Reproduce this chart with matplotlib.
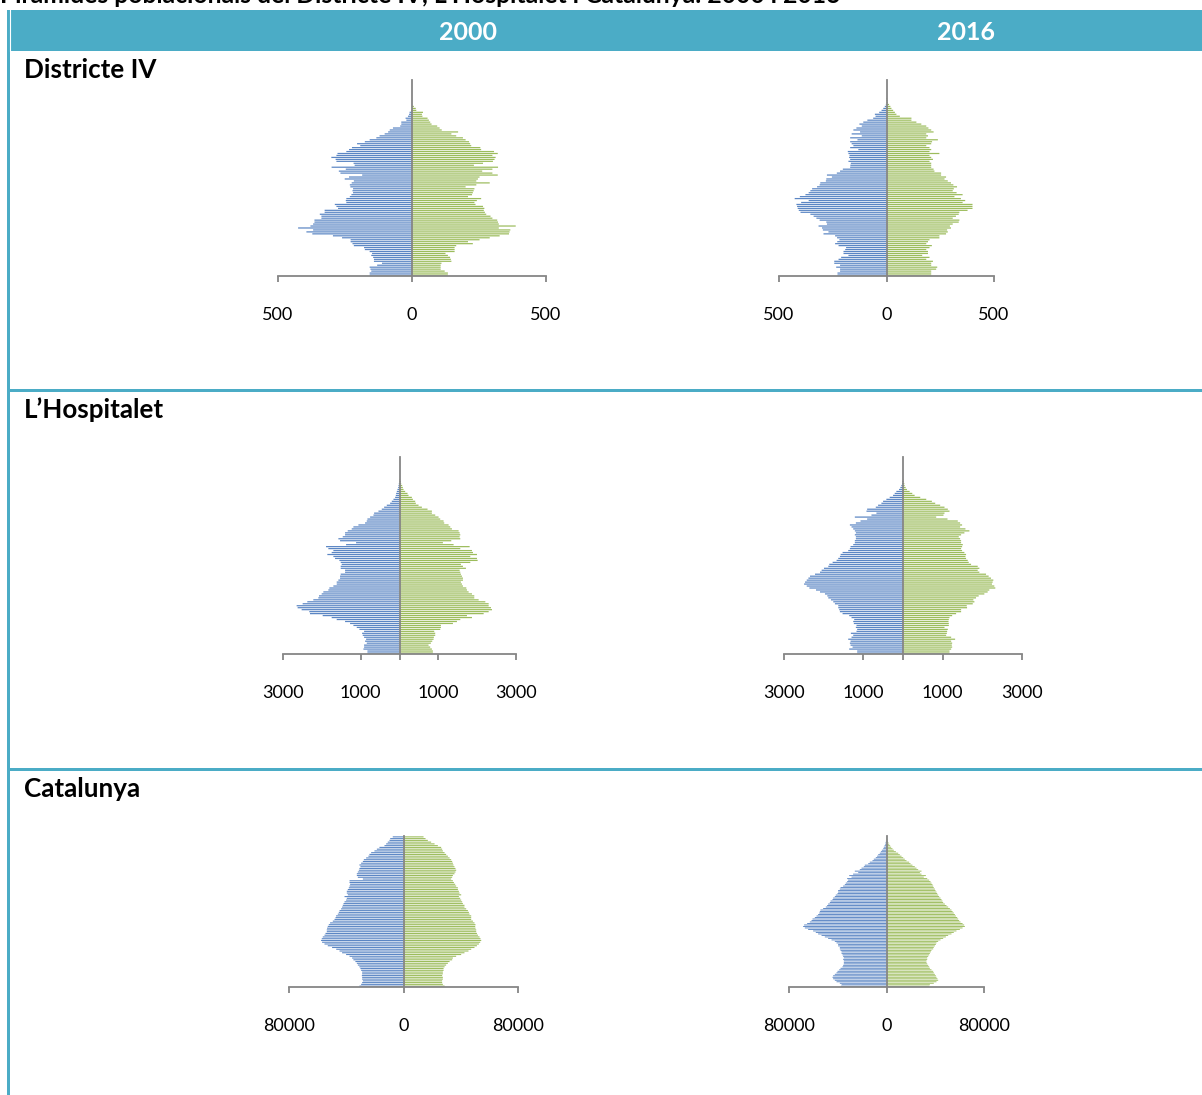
import numpy as np
import matplotlib
matplotlib.use('Agg')
import matplotlib.pyplot as plt
from matplotlib.patches import Rectangle

plt.rcParams['font.family'] = ['Lato', 'DejaVu Sans']

# ------------------------------------------------------------
# Population by single year of age (men on the left, women on the right)
# ------------------------------------------------------------
# Districte IV
d4_2000_men = [158, 158, 152, 155, 158, 130, 112, 142, 142, 145,
               152, 149, 158, 176, 179, 217, 222, 229, 229, 261,
               295, 372, 394, 369, 425, 379, 369, 364, 364, 338,
               338, 344, 326, 326, 276, 282, 288, 245, 247, 245,
               232, 226, 220, 222, 220, 230, 232, 225, 217, 251,
               235, 186, 267, 273, 247, 300, 214, 218, 282, 285,
               301, 282, 278, 245, 235, 224, 193, 205, 176, 158,
               133, 121, 102, 89, 83, 71, 44, 40, 40, 21,
               24, 15, 11, 9, 2]
d4_2000_women = [134, 134, 122, 107, 107, 107, 110, 147, 145, 142,
                 134, 125, 159, 159, 159, 165, 227, 209, 252, 290,
                 327, 362, 364, 367, 324, 387, 324, 321, 318, 300,
                 293, 277, 272, 268, 270, 265, 237, 233, 242, 258,
                 209, 224, 227, 230, 233, 200, 240, 290, 240, 246,
                 252, 320, 300, 262, 300, 321, 231, 265, 302, 308,
                 312, 300, 320, 306, 258, 255, 221, 217, 213, 200,
                 190, 165, 147, 172, 111, 103, 94, 73, 68, 63,
                 58, 39, 37, 41, 16, 14, 7]
d4_2016_men = [228, 228, 216, 216, 234, 216, 243, 243, 223, 211,
               177, 200, 200, 192, 188, 223, 239, 229, 219, 230,
               239, 293, 270, 296, 300, 316, 277, 280, 311, 326,
               339, 354, 400, 408, 413, 416, 419, 397, 362, 427,
               403, 377, 362, 354, 346, 323, 311, 308, 282, 280,
               254, 277, 231, 216, 203, 169, 168, 166, 177, 169,
               174, 172, 177, 180, 131, 169, 154, 162, 169, 135,
               169, 115, 162, 123, 154, 140, 115, 126, 108, 89,
               62, 51, 54, 34, 23, 15, 8, 3]
d4_2016_women = [208, 208, 208, 231, 236, 208, 208, 216, 185, 200,
                 166, 193, 193, 185, 200, 211, 185, 193, 200, 246,
                 246, 277, 285, 282, 300, 295, 308, 336, 339, 308,
                 323, 336, 339, 377, 400, 400, 400, 354, 366, 346,
                 316, 354, 326, 308, 313, 328, 311, 300, 285, 270,
                 277, 254, 254, 223, 219, 208, 208, 208, 200, 216,
                 208, 200, 246, 200, 208, 200, 185, 208, 212, 239,
                 185, 193, 185, 219, 208, 195, 185, 162, 139, 116,
                 116, 62, 46, 39, 31, 23, 18, 12, 6, 5,
                 3]

# L'Hospitalet
lh_2000_men = [826, 826, 929, 912, 912, 843, 886, 860, 912, 946,
               963, 912, 1032, 1101, 1187, 1273, 1402, 1617, 1746, 1978,
               2305, 2322, 2520, 2623, 2649, 2494, 2374, 2219, 2090, 2073,
               2004, 1961, 1832, 1806, 1703, 1617, 1617, 1574, 1531, 1531,
               1514, 1402, 1402, 1514, 1514, 1488, 1514, 1548, 1660, 1703,
               1858, 1746, 1703, 1832, 1892, 1376, 1118, 1531, 1574, 1462,
               1402, 1402, 1333, 1230, 1187, 1058, 886, 843, 826, 757,
               671, 654, 542, 456, 396, 327, 241, 198, 155, 112,
               95, 86, 69, 52, 34, 26, 17]
lh_2000_women = [860, 860, 834, 791, 748, 808, 843, 877, 886, 920,
                 920, 894, 1049, 1066, 1066, 1376, 1479, 1565, 1866, 1737,
                 2167, 2296, 2382, 2356, 2296, 2296, 2210, 2038, 1926, 1926,
                 1866, 1780, 1737, 1720, 1634, 1608, 1582, 1634, 1634, 1608,
                 1582, 1565, 1548, 1711, 1634, 1582, 1823, 2012, 1995, 1823,
                 1995, 1892, 1866, 1565, 1806, 1393, 1118, 1333, 1565, 1548,
                 1565, 1548, 1522, 1350, 1307, 1264, 1152, 1135, 1049, 1006,
                 920, 834, 834, 722, 576, 490, 421, 404, 344, 318,
                 232, 206, 146, 103, 86, 69, 43, 34, 17]
lh_2016_men = [1155, 1155, 1356, 1272, 1322, 1339, 1322, 1381, 1297, 1255,
               1314, 1172, 1155, 1188, 1172, 1239, 1255, 1230, 1297, 1356,
               1523, 1590, 1607, 1632, 1632, 1716, 1758, 1816, 1883, 1908,
               1967, 2092, 2193, 2360, 2427, 2494, 2469, 2427, 2385, 2344,
               2218, 2092, 2051, 1992, 1883, 1858, 1774, 1674, 1632, 1590,
               1573, 1523, 1381, 1339, 1322, 1255, 1214, 1214, 1188, 1188,
               1214, 1188, 1214, 1255, 1297, 1339, 1188, 1071, 904, 1214,
               795, 670, 921, 904, 686, 628, 544, 502, 419, 335,
               251, 209, 167, 100, 67, 42, 25, 17]
lh_2016_women = [1172, 1172, 1214, 1239, 1230, 1239, 1214, 1314, 1214, 1088,
                 1105, 1113, 1130, 1046, 1155, 1155, 1147, 1155, 1172, 1239,
                 1339, 1465, 1465, 1615, 1607, 1758, 1800, 1774, 1841, 1908,
                 2051, 2134, 2176, 2327, 2302, 2243, 2260, 2277, 2218, 2159,
                 2093, 1925, 1883, 1925, 1883, 1716, 1657, 1632, 1590, 1574,
                 1590, 1548, 1490, 1465, 1490, 1507, 1465, 1465, 1440, 1406,
                 1465, 1548, 1674, 1574, 1440, 1490, 1440, 1381, 1122, 837,
                 1021, 1046, 1172, 1130, 1046, 937, 812, 728, 586, 435,
                 293, 234, 167, 100, 67, 42, 33, 17, 8]

# Catalunya
cat_2000_men = [30800, 29600, 28900, 28400, 28900, 28900, 29100, 28900, 28900, 29600,
                30100, 30800, 31900, 32600, 33600, 35000, 35900, 37700, 40100, 42900,
                44700, 47000, 49900, 52900, 55200, 56900, 57600, 57100, 56400, 55200,
                54500, 53600, 53600, 53400, 52900, 52200, 51300, 49400, 48200, 47500,
                47100, 45900, 45200, 44700, 43600, 42900, 42400, 41900, 41200, 40100,
                39600, 41200, 38900, 39600, 39600, 38900, 38200, 37700, 37300, 37700,
                37700, 28400, 31900, 32600, 32600, 31900, 31200, 30800, 30100, 30800,
                29600, 28400, 27700, 26100, 24500, 23800, 22600, 20300, 18600, 16800,
                13300, 12100, 11000, 9800, 9300, 7500]
cat_2000_women = [28700, 27500, 27000, 27000, 27500, 27500, 27000, 27500, 27500, 28000,
                  28000, 28700, 29800, 31000, 32200, 34000, 34500, 36800, 40300, 42600,
                  45400, 47300, 49600, 51300, 52700, 53600, 54300, 53800, 53100, 52000,
                  51300, 50800, 50800, 50300, 50100, 50300, 49600, 48500, 47300, 47300,
                  47300, 46100, 45700, 45000, 43800, 42600, 42600, 41500, 41000, 40300,
                  39600, 38700, 40300, 39100, 38700, 38000, 38000, 36800, 36100, 35200,
                  34500, 33300, 34000, 34500, 35600, 36300, 36800, 36300, 35600, 34900,
                  34500, 34000, 33300, 32200, 31000, 29800, 28700, 27500, 27000, 26300,
                  24000, 21700, 19300, 17000, 15400, 14000]
cat_2016_men = [37500, 36900, 38300, 41000, 42400, 43800, 44300, 43800, 42400, 41000,
                40200, 38800, 37700, 36100, 35600, 35000, 35000, 35000, 35600, 35000,
                35600, 36100, 36900, 36900, 37700, 38300, 38300, 39700, 39700, 41000,
                42400, 45100, 47900, 50600, 53300, 56100, 58000, 60200, 64300, 67000,
                68400, 67600, 65100, 62900, 61500, 60700, 58800, 57400, 56100, 55200,
                54700, 54200, 52000, 49800, 48700, 47900, 46500, 45900, 44300, 43800,
                42400, 41600, 40200, 39700, 39700, 38300, 37700, 35600, 34200, 33400,
                32300, 31500, 32300, 28700, 30600, 27400, 23200, 26000, 21900, 20500,
                18600, 17800, 15000, 13700, 11500, 10400, 8800, 7700, 6800, 5500,
                4600, 3800, 2700, 2200, 1600, 1100, 800, 500, 300, 200,
                100]
cat_2016_women = [35000, 35600, 38800, 41000, 42400, 41800, 41000, 40500, 39700, 38800,
                  38300, 36900, 35600, 35000, 34200, 33400, 32800, 32800, 33400, 33400,
                  34200, 35000, 35600, 36400, 36900, 38300, 38800, 39700, 40500, 41000,
                  42400, 44300, 46500, 48700, 50600, 53300, 55200, 57400, 60200, 62400,
                  64300, 63700, 62400, 60700, 59600, 58800, 58000, 56900, 56100, 55200,
                  54200, 53300, 52000, 50600, 49200, 47900, 46500, 45900, 45100, 44300,
                  43200, 42400, 41600, 41000, 40200, 39700, 38800, 38300, 37700, 36900,
                  36100, 35000, 33400, 30600, 32300, 28700, 27400, 28700, 26000, 24600,
                  23200, 21300, 19700, 18600, 16400, 15000, 13700, 12300, 10900, 9600,
                  7700, 6000, 4900, 3800, 3000, 2200, 1600, 1100, 800, 500,
                  300]

title = "Piràmides poblacionals del Districte IV, L'Hospitalet i Catalunya. 2000 i 2016"
years = ['2000', '2016']
rows = ['Districte IV', 'L\u2019Hospitalet', 'Catalunya']

# axis ranges / ticks per territory
d4_ticks, d4_labels = [-500, 0, 500], ['500', '0', '500']
lh_ticks, lh_labels = [-3000, -1000, 0, 1000, 3000], ['3000', '1000', '', '1000', '3000']
cat_ticks, cat_labels = [-80000, 0, 80000], ['80000', '0', '80000']

# ------------------------------------------------------------
W, H = 1202, 1095
fig = plt.figure(figsize=(W / 100, H / 100), dpi=100)

TEAL = '#4BACC6'
BLUE = '#5B86C4'
GREEN = '#9CBC5C'
GREY = '#868686'

# background "table" drawn in pixel coordinates
bg = fig.add_axes([0, 0, 1, 1], zorder=0)
bg.set_xlim(0, W)
bg.set_ylim(H, 0)
bg.axis('off')
bg.add_patch(Rectangle((7, 10), W - 7, 41, color=TEAL, lw=0))
bg.plot([9.6, 9.6], [10, 51], color='white', lw=0.8)
bg.add_patch(Rectangle((7, 51), 3, H - 51, color=TEAL, lw=0))
for ysep in (389, 768):
    bg.add_patch(Rectangle((10, ysep), W - 10, 3, color=TEAL, lw=0))

# the title sits at the very top edge (cut off as in the original page)
bg.text(0, 3, title, fontsize=17.8, fontweight='bold', va='baseline', ha='left')
for xc, yr in zip((468, 966), years):
    bg.text(xc, 40, yr, fontsize=18, fontweight='bold', color='white',
            va='baseline', ha='center')
for yb, lab in zip((78, 418, 797), rows):
    bg.text(24, yb, lab, fontsize=18.7, fontweight='bold', va='baseline', ha='left')


def pyramid(box, lim, n_ages, men, women, ticks, labels):
    x1, x2, y1, y2 = box
    ax = fig.add_axes([x1 / W, 1 - y2 / H, (x2 - x1) / W, (y2 - y1) / H], zorder=2)
    ax.patch.set_alpha(0)
    ax.barh(np.arange(len(men)), -np.array(men), height=0.62, color=BLUE,
            lw=0, snap=False)
    ax.barh(np.arange(len(women)), women, height=0.62, color=GREEN,
            lw=0, snap=False)
    ax.set_xlim(-lim, lim)
    ax.set_ylim(-0.5, n_ages - 0.5)
    ax.spines['top'].set_visible(False)
    ax.spines['right'].set_visible(False)
    ax.spines['left'].set_position(('data', 0))
    for s in ('left', 'bottom'):
        ax.spines[s].set_color(GREY)
        ax.spines[s].set_linewidth(1.3)
    ax.set_yticks([])
    ax.set_xticks(ticks)
    ax.set_xticklabels(labels)
    ax.tick_params(axis='x', direction='out', length=4.5, width=1.3, color=GREY,
                   pad=17.5, labelsize=13)
    return ax


pyramid((278, 546, 80, 276), 500, 100, d4_2000_men, d4_2000_women, d4_ticks, d4_labels)
pyramid((779, 994, 80, 276), 500, 100, d4_2016_men, d4_2016_women, d4_ticks, d4_labels)
pyramid((283, 516, 457, 654), 3000, 100, lh_2000_men, lh_2000_women, lh_ticks, lh_labels)
pyramid((784, 1022, 457, 654), 3000, 100, lh_2016_men, lh_2016_women, lh_ticks, lh_labels)
pyramid((289, 518, 836, 987), 80000, 86, cat_2000_men, cat_2000_women, cat_ticks, cat_labels)
pyramid((789, 984, 836, 987), 80000, 101, cat_2016_men, cat_2016_women, cat_ticks, cat_labels)

fig.savefig('out.png', dpi=100)
